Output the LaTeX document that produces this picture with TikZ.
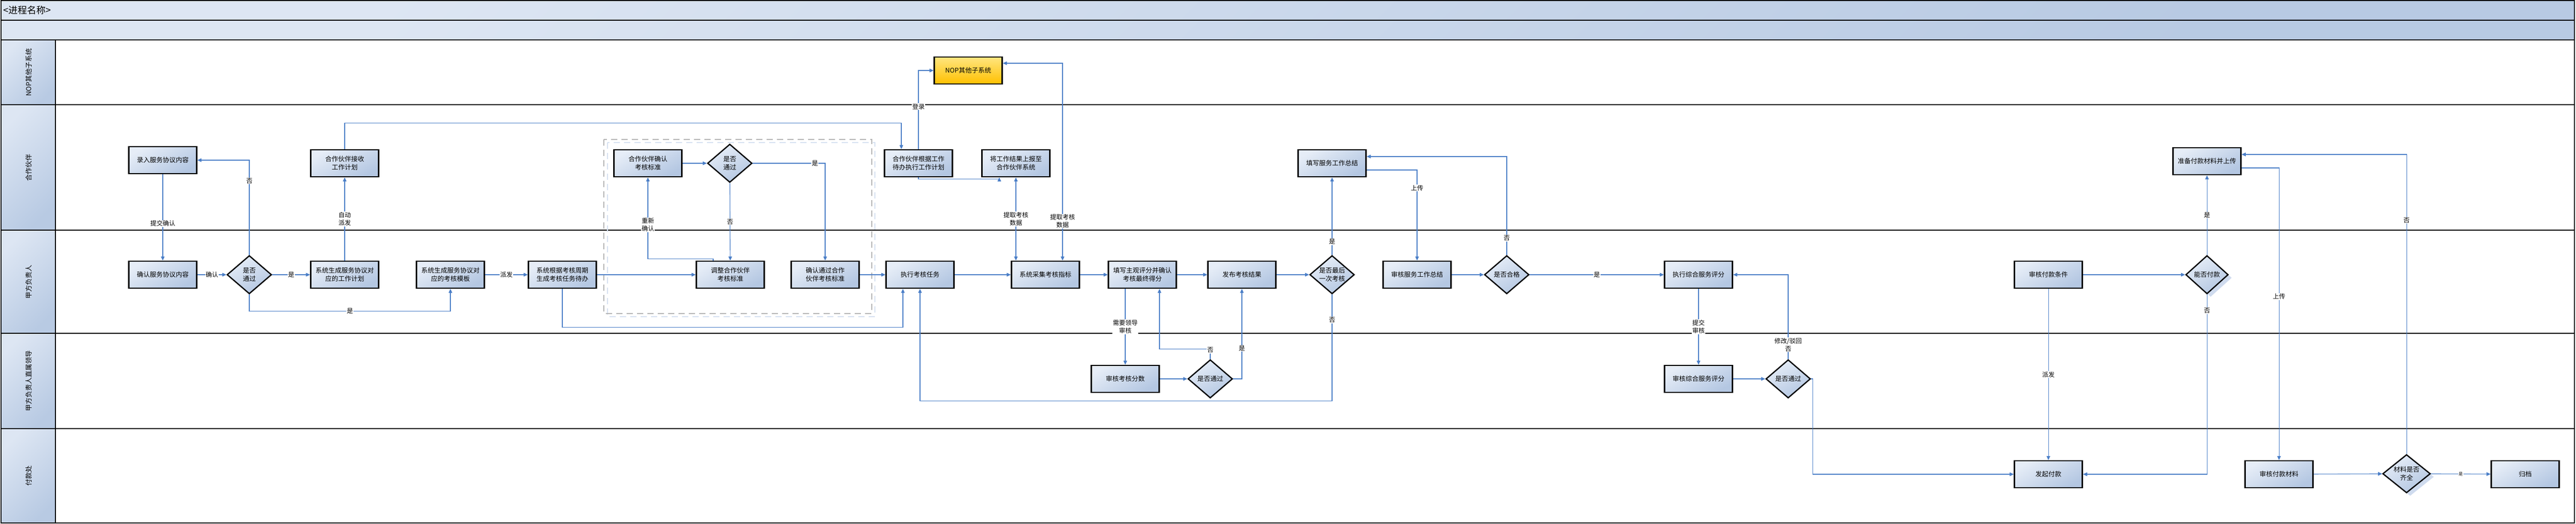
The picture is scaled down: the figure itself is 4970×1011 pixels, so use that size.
\documentclass[tikz,border=0pt]{standalone}
\usepackage{fontspec}
\setmainfont{Noto Sans CJK SC}
\usetikzlibrary{positioning, shapes.geometric, arrows.meta, shadows}
\definecolor{boxtop}{HTML}{E6EDF7}
\definecolor{boxbot}{HTML}{B4C7E2}
\definecolor{flowblue}{HTML}{4A7EC7}
\definecolor{nopA}{HTML}{FFE680}
\definecolor{nopB}{HTML}{FFC000}
\definecolor{barA}{HTML}{DDE6F3}
\definecolor{barB}{HTML}{B8CAE3}
\definecolor{grpgray}{HTML}{B4B4B4}
\definecolor{grpblue}{HTML}{D6E1F1}
\definecolor{shadowblue}{HTML}{CFDBEE}

\begin{document}
\begin{tikzpicture}[
			x=1pt, y=-1pt,
			>={Triangle[length=8pt, width=7pt]},
			every node/.style={font=\fontsize{12.5}{16}\selectfont},
			proc/.style={rectangle, draw=black, line width=2.4pt, top color=boxtop, bottom color=boxbot, shading angle=30, minimum width=131pt, minimum height=52pt, inner sep=1pt, align=center},
			nopbox/.style={proc, top color=nopA, bottom color=nopB},
			dec/.style={diamond, draw=black, line width=2.4pt, top color=boxtop, bottom color=boxbot, shading angle=30, aspect=1.15, minimum width=86pt, minimum height=74pt, inner sep=0pt, align=center},
			dshadow/.style={drop shadow={shadow xshift=7pt, shadow yshift=-6pt, fill=shadowblue, opacity=1}},
			lane/.style={draw=black, line width=2.5pt},
			flow/.style={draw=flowblue, line width=1.1pt, ->},
			flowboth/.style={draw=flowblue, line width=1.1pt, <->},
			lbl/.style={fill=white, inner sep=1pt, align=center, font=\fontsize{12}{15}\selectfont}
			]
			\useasboundingbox (0,0) rectangle (4970,1011);
			\shade[top color=barA, bottom color=barB, shading angle=45] (2,1) rectangle (4967,39);
			\shade[top color=barA, bottom color=barB, shading angle=45] (2,39) rectangle (4967,77);
			\draw[lane] (2,1) rectangle (4967,39);
			\draw[lane] (2,39) rectangle (4967,77);
			\node[anchor=west, font=\fontsize{18}{20}\selectfont] (title) at (3,20) {<进程名称>};
			\foreach \lid/\ya/\yb/\txt in {nop/77/202/NOP其他子系统, hz/202/444/合作伙伴, jf/444/643/甲方负责人, ld/643/827/甲方负责人直属领导, fk/827/1009/付款处} {
				\shade[top color=barA, bottom color=barB, shading angle=45] (2,\ya) rectangle (107,\yb);
				\draw[lane] (2,\ya) rectangle (4967,\yb);
				\draw[lane] (107,\ya) -- (107,\yb);
				\node[rotate=90, font=\fontsize{13}{15}\selectfont] (lane-\lid) at (56,{(\ya+\yb)/2}) {\txt};
			}
			\draw[grpblue, line width=2.5pt, dash pattern=on 12pt off 8pt] (1172,275) rectangle (1688,611);
			\draw[grpgray, line width=2.5pt, dash pattern=on 12pt off 8pt] (1165,269) rectangle (1682,605);

			\node[proc] (lu) at (314,309) {录入服务协议内容};
			\node[proc] (qr) at (314,530) {确认服务协议内容};
			\node[dec] (d1) at (481,530) {是否\\通过};
			\node[proc] (jsjh) at (665,315) {合作伙伴接收\\工作计划};
			\node[proc] (scjh) at (665,530) {系统生成服务协议对\\应的工作计划};
			\node[proc] (scmb) at (869,530) {系统生成服务协议对\\应的考核模板};
			\node[proc] (scrw) at (1085,530) {系统根据考核周期\\生成考核任务待办};
			\node[proc] (qrbz) at (1250,315) {合作伙伴确认\\考核标准};
			\node[dec] (d2) at (1408,315) {是否\\通过};
			\node[proc] (tz) at (1409,530) {调整合作伙伴\\考核标准};
			\node[proc] (tgbz) at (1592,530) {确认通过合作\\伙伴考核标准};
			\node[nopbox] (nop) at (1868,136) {NOP其他子系统};
			\node[proc] (dbzx) at (1772,315) {合作伙伴根据工作\\待办执行工作计划};
			\node[proc] (sbxt) at (1960,315) {将工作结果上报至\\合作伙伴系统};
			\node[proc] (zxrw) at (1775,530) {执行考核任务};
			\node[proc] (cjzb) at (2017,530) {系统采集考核指标};
			\node[proc] (txpf) at (2204,530) {填写主观评分并确认\\考核最终得分};
			\node[proc] (shfs) at (2171,731) {审核考核分数};
			\node[dec] (d3) at (2335,731) {是否通过};
			\node[proc] (fbjg) at (2396,530) {发布考核结果};
			\node[dec] (d4) at (2570,530) {是否最后\\一次考核};
			\node[proc] (txzj) at (2570,315) {填写服务工作总结};
			\node[proc] (shzj) at (2734,530) {审核服务工作总结};
			\node[dec] (d5) at (2907,530) {是否合格};
			\node[proc] (zhpf) at (3277,530) {执行综合服务评分};
			\node[proc] (zhsh) at (3277,731) {审核综合服务评分};
			\node[dec] (d6) at (3450,731) {是否通过};
			\node[proc] (shtj) at (3952,530) {审核付款条件};
			\node[dec, dshadow, minimum width=82pt] (d7) at (4258,530) {能否付款};
			\node[proc] (zbcl) at (4258,311) {准备付款材料并上传};
			\node[proc] (fqfk) at (3952,915) {发起付款};
			\node[proc] (shcl) at (4397,915) {审核付款材料};
			\node[dec, dshadow, minimum width=92pt] (d8) at (4643,914) {材料是否\\齐全};
			\node[proc] (gd) at (4872,915) {归档};

			\draw[flow] (lu) -- node[lbl, pos=0.57] {提交确认} (qr);
			\draw[flow] (qr) -- node[lbl] {确认} (d1);
			\draw[flow] (d1) -- node[lbl] {是} (scjh);
			\draw[flow] (d1.north) |- node[lbl, pos=0.39] {否} (lu.east);
			\draw[flow] (d1.south) -- ++(0,32) -| node[lbl, pos=0.25] {是} (scmb.south);
			\draw[flow] (scjh) -- node[lbl] {自动\\派发} (jsjh);
			\draw[flow] (jsjh.north) -- ++(0,-50) -| ([xshift=-33pt]dbzx.north);
			\draw[flow] (scmb) -- node[lbl] {派发} (scrw);
			\draw[flow] (scrw.south) -- ++(0,74) -| ([xshift=-33pt]zxrw.south);
			\draw[flow] (scrw) -- (tz);
			\draw[flow] (qrbz) -- (d2);
			\draw[flow] (d2.east) -| node[lbl, pos=0.43] {是} (tgbz.north);
			\draw[flow] (d2) -- node[lbl] {否} (tz);
			\draw[flow] ([xshift=-33pt]tz.north) -- ++(0,-3) -| node[lbl, pos=0.71] {重新\\确认} (qrbz.south);
			\draw[flow] (tgbz) -- (zxrw);
			\draw[flow] (dbzx.north) |- node[lbl, pos=0.27] {登录} (nop.west);
			\draw[flow] (dbzx.south) -- ++(0,3) -| ([xshift=-32pt]sbxt.south);
			\draw[flowboth] (sbxt.south) -- node[lbl] {提取考核\\数据} (sbxt.south |- cjzb.north);
			\draw[flowboth] ([yshift=14pt]nop.east) -| node[lbl, pos=0.9] {提取考核\\数据} ([xshift=33pt]cjzb.north);
			\draw[flow] (zxrw) -- (cjzb);
			\draw[flow] (cjzb) -- (txpf);
			\draw[flow] (shfs.north |- txpf.south) -- node[lbl] {需要领导\\审核} (shfs.north);
			\draw[flow] (shfs) -- (d3);
			\draw[flow] (d3.north) -- node[lbl, pos=0.9] {否} ++(0,-19) -| ([xshift=33pt]txpf.south);
			\draw[flow] (d3.east) -| node[lbl, pos=0.67] {是} (fbjg.south);
			\draw[flow] (txpf) -- (fbjg);
			\draw[flow] (fbjg) -- (d4);
			\draw[flow] (d4) -- node[lbl, pos=0.17] {是} (txzj);
			\draw[flow] (d4.south) -- node[lbl, pos=0.24] {否} ++(0,205) -| (zxrw.south);
			\draw[flow] ([yshift=-13pt]txzj.east) -| node[lbl, pos=0.6] {上传} (shzj.north);
			\draw[flow] (shzj) -- (d5);
			\draw[flow] (d5.north) |- node[lbl, pos=0.085] {否} ([yshift=13pt]txzj.east);
			\draw[flow] (d5) -- node[lbl] {是} (zhpf);
			\draw[flow] (zhpf) -- node[lbl] {提交\\审核} (zhsh);
			\draw[flow] (zhsh) -- (d6);
			\draw[flow] (d6.north) |- node[lbl, pos=0.085] {修改/驳回\\否} (zhpf.east);
			\draw[flow] (d6.east) -- ++(3,0) |- (fqfk.west);
			\draw[flow] (shtj) -- (d7);
			\draw[flow] (d7) -- node[lbl] {是} (zbcl);
			\draw[flow] (d7.south) |- node[lbl, pos=0.045] {否} (fqfk.east);
			\draw[flow] (shtj) -- node[lbl] {派发} (fqfk);
			\draw[flow] ([yshift=-13pt]zbcl.east) -| node[lbl, pos=0.72] {上传} (shcl.north);
			\draw[flow] (shcl) -- (d8);
			\draw[flow] (d8.north) |- node[lbl, pos=0.39] {否} ([yshift=13pt]zbcl.east);
			\draw[flow] (d8) -- node[lbl, font=\fontsize{8}{10}\selectfont] {是} (gd);
		\end{tikzpicture}
\end{document}
